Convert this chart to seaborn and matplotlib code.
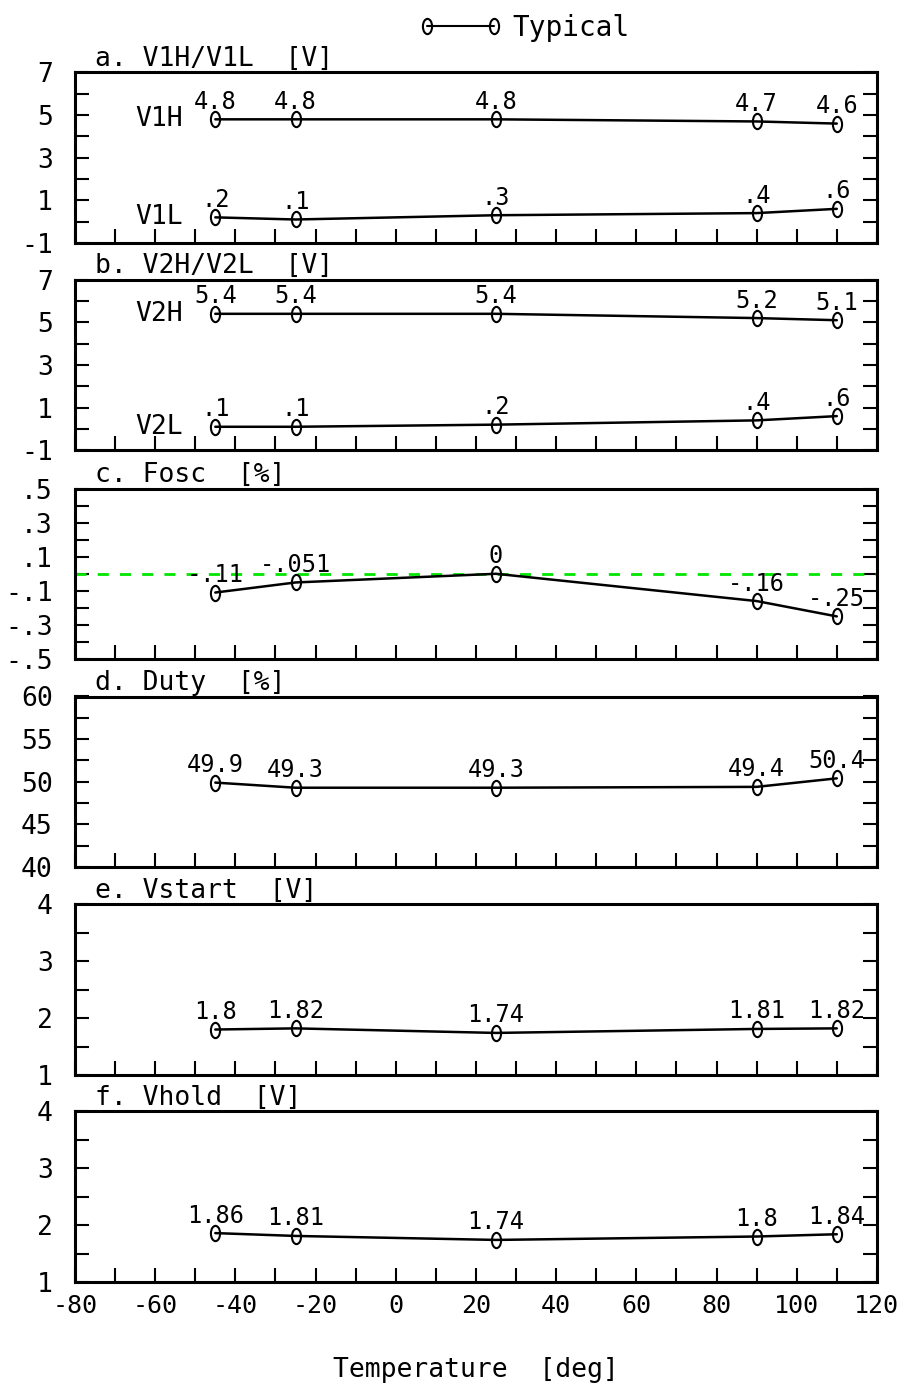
import numpy as np
import pandas as pd
import seaborn as sns
import matplotlib
matplotlib.use("Agg")
import matplotlib.pyplot as plt
from matplotlib.path import Path
from matplotlib.lines import Line2D
from matplotlib.ticker import FixedLocator, MultipleLocator

# data
temps = [-45, -25, 25, 90, 110]
v1h = [4.8, 4.8, 4.8, 4.7, 4.6]
v1l = [0.2, 0.1, 0.3, 0.4, 0.6]
v2h = [5.4, 5.4, 5.4, 5.2, 5.1]
v2l = [0.1, 0.1, 0.2, 0.4, 0.6]
fosc = [-0.11, -0.051, 0, -0.16, -0.25]
duty = [49.9, 49.3, 49.3, 49.4, 50.4]
vstart = [1.8, 1.82, 1.74, 1.81, 1.82]
vhold = [1.86, 1.81, 1.74, 1.8, 1.84]

titles = ["a. V1H/V1L  [V]", "b. V2H/V2L  [V]", "c. Fosc  [%]",
          "d. Duty  [%]", "e. Vstart  [V]", "f. Vhold  [V]"]
v_ticks = [-1, 1, 3, 5, 7]
fosc_ticks = [-0.5, -0.3, -0.1, 0.1, 0.3, 0.5]
fosc_ticklabels = ["-.5", "-.3", "-.1", ".1", ".3", ".5"]
duty_ticks = [40, 45, 50, 55, 60]
vs_ticks = [1, 2, 3, 4]
x_ticks = [-80, -60, -40, -20, 0, 20, 40, 60, 80, 100, 120]

sns.set_style("ticks")
plt.rcParams["font.family"] = ["DejaVu Sans Mono", "DejaVu Sans"]
plt.rcParams["axes.unicode_minus"] = False
for key in ["text.color", "axes.edgecolor", "xtick.color", "ytick.color",
            "axes.labelcolor"]:
    plt.rcParams[key] = "black"

FS = 17     # value labels
TS = 19     # ticks, titles and names


def fmt(v):
    s = f"{v:g}"
    return s.replace("-0.", "-.").replace("0.", ".") if abs(v) < 1 else s


# narrow "0" shaped marker
circ = Path.unit_circle()
oval = Path(circ.vertices * [0.6, 1.0], circ.codes)
mk = dict(marker=oval, markersize=11, markerfacecolor="none",
          markeredgecolor="black", markeredgewidth=1.5)

fig = plt.figure(figsize=(8.99, 13.93), dpi=100)

left, width, height = 0.0834, 0.892, 0.1224
bottoms = [0.8256, 0.6768, 0.5269, 0.3776, 0.2283, 0.0797]

panels = [
    ([v1h, v1l], ["V1H", "V1L"], (-1, 7), v_ticks, None, 1),
    ([v2h, v2l], ["V2H", "V2L"], (-1, 7), v_ticks, None, 1),
    ([fosc], None, (-0.5, 0.5), fosc_ticks, fosc_ticklabels, 0.1),
    ([duty], None, (40, 60), duty_ticks, None, 2.5),
    ([vstart], None, (1, 4), vs_ticks, None, 0.5),
    ([vhold], None, (1, 4), vs_ticks, None, 0.5),
]

for i, (series, names, ylim, yt, ytl, ystep) in enumerate(panels):
    ax = fig.add_axes([left, bottoms[i], width, height])
    if i == 2:
        ax.axhline(0, color="#00e600", lw=2, ls=(0, (4, 4)), zorder=1)
    for j, vals in enumerate(series):
        df = pd.DataFrame({"temp": temps, "val": vals})
        sns.lineplot(data=df, x="temp", y="val", ax=ax, color="black",
                     lw=1.8, **mk)
        for t, v in zip(temps, vals):
            ax.annotate(fmt(v), (t, v), xytext=(0, 4),
                        textcoords="offset points", ha="center",
                        va="bottom", fontsize=FS)
        if names:
            ax.text(-53, vals[0], names[j], ha="right", va="center",
                    fontsize=TS)
    ax.set_xlim(-80, 120)
    ax.set_ylim(*ylim)
    ax.xaxis.set_major_locator(FixedLocator(x_ticks))
    ax.xaxis.set_minor_locator(MultipleLocator(10))
    ax.yaxis.set_major_locator(FixedLocator(yt))
    ax.yaxis.set_minor_locator(MultipleLocator(ystep))
    if ytl:
        ax.set_yticklabels(ytl)
    ax.tick_params(axis="y", which="both", direction="in", left=True,
                   right=True, length=10, width=1.5, labelsize=TS,
                   pad=16)
    ax.tick_params(axis="x", which="both", direction="in", bottom=True,
                   top=False, length=10, width=1.5, labelsize=TS - 1,
                   pad=9)
    if i < 5:
        ax.tick_params(axis="x", labelbottom=False)
    for s in ax.spines.values():
        s.set_visible(True)
        s.set_linewidth(2.2)
    ax.set_xlabel("")
    ax.set_ylabel("")
    ax.text(0.025, 1.005, titles[i], transform=ax.transAxes, ha="left",
            va="bottom", fontsize=TS)
    if i == 5:
        ax.set_xlabel("Temperature  [deg]", fontsize=TS, labelpad=28)

handle = Line2D([], [], color="black", lw=1.5, **mk)
fig.legend([handle], ["Typical"], loc="upper center",
           bbox_to_anchor=(0.583, 1.008), frameon=False, numpoints=2,
           handlelength=3.0, handletextpad=0.35, fontsize=TS + 1)

fig.savefig("out.png", dpi=100)
